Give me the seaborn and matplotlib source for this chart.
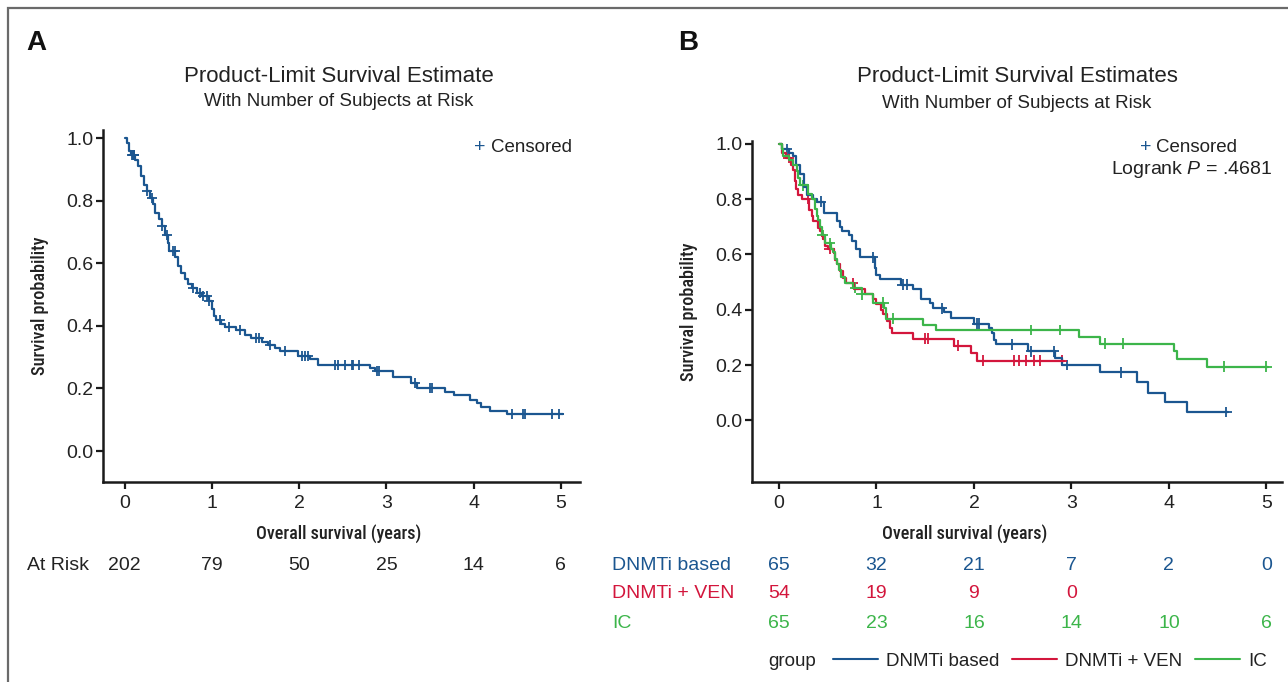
import numpy as np
import pandas as pd
import matplotlib
matplotlib.use("Agg")
import matplotlib.pyplot as plt
import matplotlib.font_manager as fm
from matplotlib.lines import Line2D
from matplotlib.patches import Rectangle
from matplotlib.transforms import blended_transform_factory
import seaborn as sns

# ---- Panel A: overall survival (all patients) ----
a_time = [0.00, 0.03, 0.05, 0.07, 0.12, 0.15, 0.19, 0.22, 0.25, 0.29, 0.32, 0.35, 0.39, 0.43,
          0.46, 0.49, 0.51, 0.58, 0.61, 0.65, 0.69, 0.73, 0.77, 0.83, 0.88, 0.97, 1.00, 1.02,
          1.05, 1.10, 1.15, 1.27, 1.38, 1.45, 1.57, 1.64, 1.72, 1.78, 1.99, 2.12, 2.21, 2.81,
          2.87, 3.07, 3.28, 3.35, 3.67, 3.78, 3.96, 4.04, 4.09, 4.19, 4.38, 5.02]
a_surv = [1.000, 0.985, 0.960, 0.945, 0.930, 0.910, 0.880, 0.850, 0.830, 0.810, 0.790, 0.760,
          0.740, 0.720, 0.690, 0.665, 0.640, 0.620, 0.590, 0.570, 0.550, 0.535, 0.520, 0.505,
          0.495, 0.480, 0.455, 0.430, 0.420, 0.405, 0.395, 0.387, 0.372, 0.360, 0.350, 0.340,
          0.330, 0.320, 0.305, 0.295, 0.275, 0.265, 0.255, 0.235, 0.217, 0.200, 0.190, 0.178,
          0.163, 0.153, 0.140, 0.128, 0.117, 0.117]
a_cens = [0.08, 0.09, 0.10, 0.11, 0.25, 0.31, 0.43, 0.48, 0.55, 0.57, 0.78, 0.86, 0.90, 0.94,
          0.97, 1.09, 1.19, 1.32, 1.51, 1.54, 1.66, 1.84, 2.03, 2.07, 2.10, 2.41, 2.45, 2.52,
          2.60, 2.62, 2.68, 2.89, 2.92, 3.33, 3.50, 3.52, 4.44, 4.57, 4.59, 4.90, 4.98]
a_risk = [202, 79, 50, 25, 14, 6]

# ---- Panel B: by treatment group ----
groups = ["DNMTi based", "DNMTi + VEN", "IC"]

dnmti_time = [0.00, 0.03, 0.10, 0.14, 0.17, 0.22, 0.26, 0.29, 0.35, 0.39, 0.46, 0.59, 0.63, 0.65,
              0.72, 0.75, 0.79, 0.83, 0.98, 1.00, 1.04, 1.25, 1.37, 1.46, 1.55, 1.58, 1.69, 1.76,
              2.00, 2.15, 2.19, 2.21, 2.23, 2.55, 2.83, 2.90, 3.29, 3.67, 3.79, 3.96, 4.19, 4.61]
dnmti_surv = [1.000, 0.980, 0.965, 0.955, 0.925, 0.890, 0.845, 0.815, 0.800, 0.790, 0.750, 0.720,
              0.700, 0.685, 0.670, 0.650, 0.620, 0.590, 0.550, 0.525, 0.510, 0.490, 0.475, 0.440,
              0.425, 0.405, 0.390, 0.370, 0.350, 0.335, 0.315, 0.290, 0.275, 0.250, 0.227, 0.200,
              0.173, 0.137, 0.100, 0.065, 0.030, 0.030]
dnmti_cens = [0.08, 0.43, 0.96, 1.27, 1.31, 1.67, 2.03, 2.05, 2.39, 2.59, 2.82, 2.95, 3.51, 4.59]

ven_time = [0.00, 0.03, 0.07, 0.12, 0.14, 0.16, 0.17, 0.19, 0.24, 0.31, 0.34, 0.35, 0.40, 0.42,
            0.44, 0.45, 0.47, 0.50, 0.56, 0.57, 0.59, 0.63, 0.66, 0.69, 0.77, 0.88, 0.96, 0.99,
            1.05, 1.07, 1.11, 1.14, 1.16, 1.37, 1.80, 1.97, 2.03, 2.92]
ven_surv = [1.000, 0.965, 0.950, 0.925, 0.905, 0.865, 0.835, 0.815, 0.800, 0.760, 0.740, 0.720,
            0.695, 0.685, 0.665, 0.655, 0.630, 0.620, 0.605, 0.580, 0.565, 0.540, 0.515, 0.495,
            0.475, 0.455, 0.440, 0.420, 0.400, 0.385, 0.360, 0.335, 0.317, 0.295, 0.270, 0.245,
            0.216, 0.216]
ven_cens = [0.10, 0.30, 0.52, 0.76, 1.50, 1.53, 1.84, 2.09, 2.41, 2.46, 2.53, 2.62, 2.68, 2.90]

ic_time = [0.00, 0.03, 0.04, 0.10, 0.14, 0.18, 0.20, 0.22, 0.30, 0.34, 0.37, 0.39, 0.40, 0.42,
           0.44, 0.47, 0.53, 0.55, 0.57, 0.60, 0.62, 0.64, 0.68, 0.76, 0.85, 0.96, 1.08, 1.10,
           1.48, 1.61, 3.08, 3.29, 4.05, 4.08, 4.39, 5.02]
ic_surv = [1.000, 0.980, 0.955, 0.940, 0.925, 0.900, 0.875, 0.850, 0.820, 0.800, 0.765, 0.740,
           0.725, 0.700, 0.670, 0.640, 0.620, 0.610, 0.585, 0.565, 0.545, 0.520, 0.495, 0.480,
           0.455, 0.425, 0.405, 0.367, 0.345, 0.327, 0.300, 0.277, 0.252, 0.223, 0.194, 0.194]
ic_cens = [0.25, 0.45, 0.52, 0.78, 0.85, 1.07, 1.17, 2.58, 2.88, 3.34, 3.53, 4.56, 5.00]

dnmti_risk = [65, 32, 21, 7, 2, 0]
ven_risk = [54, 19, 9, 0]
ic_risk = [65, 23, 16, 14, 10, 6]

colors = {"DNMTi based": "#1b5690", "DNMTi + VEN": "#d3163c", "IC": "#3cb54a"}

# ---- style ----
sns.set_style("ticks")
names = {f.name for f in fm.fontManager.ttflist}
base_font = "Liberation Sans" if "Liberation Sans" in names else "DejaVu Sans"
plt.rcParams["font.family"] = [base_font, "DejaVu Sans"]
plt.rcParams["mathtext.fontset"] = "custom"
plt.rcParams["mathtext.it"] = base_font + ":italic"
plt.rcParams["mathtext.rm"] = base_font
TXT = "#222222"


# condensed face for the axis titles, if one is installed
def find_narrow():
    prefs = ["LiberationSansNarrow-Regular", "RobotoCondensed-Medium", "RobotoCondensed-Regular",
             "DejaVuSansCondensed.ttf", "OpenSans_Condensed-Regular", "Narrow", "Condensed"]
    files = [f.fname for f in fm.fontManager.ttflist]
    for key in prefs:
        for fn in files:
            base = fn.split("/")[-1]
            if key in base and not any(b in base for b in ["Bold", "Italic", "Oblique", "Light"]):
                return fn
    return None


narrow_file = find_narrow()

W, H = 1288, 682
fig = plt.figure(figsize=(W / 100, H / 100), dpi=100)


def px(x, y):
    return x / W, 1 - y / H


def on_curve(times, surv, cens):
    idx = np.searchsorted(np.asarray(times), np.asarray(cens), side="right") - 1
    return np.asarray(surv)[idx]


def label_props(size):
    if narrow_file:
        return fm.FontProperties(fname=narrow_file, size=size)
    return fm.FontProperties(family=base_font, size=size, stretch="condensed")


def style_axes(ax):
    sns.despine(ax=ax)
    for s in ["left", "bottom"]:
        ax.spines[s].set_linewidth(1.8)
        ax.spines[s].set_color("#1a1a1a")
    ax.tick_params(axis="both", length=5, width=1.6, color="#1a1a1a",
                   labelsize=14, labelcolor=TXT)
    ax.tick_params(axis="x", pad=4.5)
    ax.tick_params(axis="y", pad=2)
    ax.set_xticks(range(6))
    ax.set_yticks(np.arange(0, 1.01, 0.2))
    ax.set_yticklabels([f"{v:.1f}" for v in np.arange(0, 1.01, 0.2)])
    ax.set_xlabel("Overall survival (years)", fontproperties=label_props(14.5), color=TXT)
    ax.set_ylabel("Survival probability", fontproperties=label_props(14.5), color=TXT)


# ---- Panel A ----
axA = fig.add_axes([103 / W, 1 - 482 / H, (580 - 103) / W, (482 - 130) / H])
dfA = pd.DataFrame({"time": a_time, "surv": a_surv})
sns.lineplot(data=dfA, x="time", y="surv", ax=axA, color=colors["DNMTi based"],
             drawstyle="steps-post", linewidth=1.6, estimator=None)
censA = pd.DataFrame({"time": a_cens, "surv": on_curve(a_time, a_surv, a_cens)})
sns.scatterplot(data=censA, x="time", y="surv", ax=axA, marker="+", s=60,
                color=colors["DNMTi based"], linewidth=1.3)
axA.set_xlim(-0.25, 5.22)
axA.set_ylim(-0.099, 1.026)
style_axes(axA)
axA.xaxis.set_label_coords(0.494, -0.119)
axA.yaxis.set_label_coords(-0.114, 0.5)

# ---- Panel B ----
axB = fig.add_axes([752 / W, 1 - 482 / H, (1282 - 752) / W, (482 - 141) / H])
curves = {"DNMTi based": (dnmti_time, dnmti_surv, dnmti_cens),
          "DNMTi + VEN": (ven_time, ven_surv, ven_cens),
          "IC": (ic_time, ic_surv, ic_cens)}
dfB = pd.concat([pd.DataFrame({"time": t, "surv": s, "group": g})
                 for g, (t, s, c) in curves.items()], ignore_index=True)
censB = pd.concat([pd.DataFrame({"time": c, "surv": on_curve(t, s, c), "group": g})
                   for g, (t, s, c) in curves.items()], ignore_index=True)
sns.lineplot(data=dfB, x="time", y="surv", hue="group", palette=colors, ax=axB,
             drawstyle="steps-post", linewidth=1.6, estimator=None, legend=False)
sns.scatterplot(data=censB, x="time", y="surv", hue="group", palette=colors, ax=axB,
                marker="+", s=60, linewidth=1.3, legend=False)
axB.set_xlim(-0.277, 5.16)
axB.set_ylim(-0.223, 1.01)
style_axes(axB)
axB.xaxis.set_label_coords(0.402, -0.123)
axB.yaxis.set_label_coords(-0.101, 0.5)

# fit the condensed axis titles to the widths seen in the reference
fig.canvas.draw()
rend = fig.canvas.get_renderer()
for ax in (axA, axB):
    xl, yl = ax.xaxis.label, ax.yaxis.label
    wx = xl.get_window_extent(rend).width
    xl.set_fontsize(14.5 * 165 / wx)
    hy = yl.get_window_extent(rend).height
    yl.set_fontsize(14.5 * 137 / hy)

# ---- titles and panel letters ----
fig.text(*px(36, 43), "A", fontsize=20, fontweight="bold", ha="center", va="center", color="#111111")
fig.text(*px(688, 43), "B", fontsize=20, fontweight="bold", ha="center", va="center", color="#111111")
fig.text(*px(339, 77), "Product-Limit Survival Estimate", fontsize=16, ha="center", va="center", color=TXT)
fig.text(*px(339, 102), "With Number of Subjects at Risk", fontsize=13.5, ha="center", va="center", color=TXT)
fig.text(*px(1017, 77), "Product-Limit Survival Estimates", fontsize=16, ha="center", va="center", color=TXT)
fig.text(*px(1017, 103), "With Number of Subjects at Risk", fontsize=13.5, ha="center", va="center", color=TXT)

# ---- censored legends ----
fig.text(*px(480, 148), "+", fontsize=14, ha="center", va="center", color=colors["DNMTi based"])
fig.text(*px(491, 148), "Censored", fontsize=13.5, ha="left", va="center", color=TXT)
fig.text(*px(1146, 148), "+", fontsize=14, ha="center", va="center", color=colors["DNMTi based"])
fig.text(*px(1156, 148), "Censored", fontsize=13.5, ha="left", va="center", color=TXT)
fig.text(*px(1272, 169), "Logrank $P$ = .4681", fontsize=14, ha="right", va="center", color=TXT)

# ---- number at risk ----
trA = blended_transform_factory(axA.transData, fig.transFigure)
fig.text(*px(27, 565), "At Risk", fontsize=14, ha="left", va="center", color=TXT)
for i, n in enumerate(a_risk):
    axA.text(i, 1 - 565 / H, str(n), transform=trA, fontsize=14, ha="center", va="center", color=TXT)

trB = blended_transform_factory(axB.transData, fig.transFigure)
for row_y, g, risk in [(565, "DNMTi based", dnmti_risk), (594, "DNMTi + VEN", ven_risk), (623, "IC", ic_risk)]:
    fig.text(*px(612, row_y), g, fontsize=14, ha="left", va="center", color=colors[g])
    for i, n in enumerate(risk):
        axB.text(i, 1 - row_y / H, str(n), transform=trB, fontsize=14, ha="center", va="center",
                 color=colors[g])

# ---- bottom group legend ----
fig.text(*px(768, 661), "group", fontsize=13.5, ha="left", va="center", color=TXT)
handles = [Line2D([], [], color=colors[g], linewidth=1.5) for g in groups]
fig.legend(handles, groups, loc="center left", bbox_to_anchor=px(833, 661), ncol=3,
           frameon=False, fontsize=13.5, handlelength=2.4, handletextpad=0.45,
           columnspacing=0.65, borderaxespad=0, borderpad=0, labelcolor=TXT)

# ---- outer frame ----
fig.patches.append(Rectangle(px(8, 700), 1.2, (700 - 8) / H, transform=fig.transFigure,
                             fill=False, edgecolor="#6a6a6a", linewidth=1.6, zorder=10))

fig.savefig("out.png", dpi=100)
